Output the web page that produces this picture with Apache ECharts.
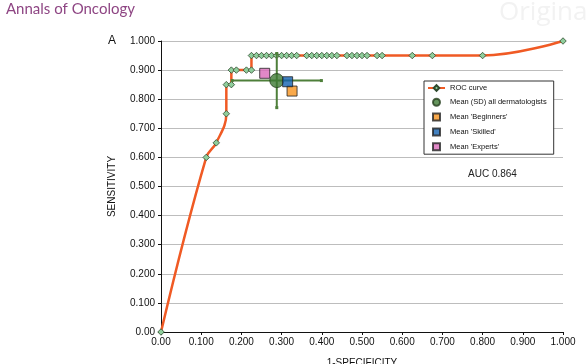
<!DOCTYPE html>
<html><head><meta charset="utf-8">
<script src="https://cdn.jsdelivr.net/npm/echarts@6/dist/echarts.min.js"></script>
<style>html,body{margin:0;padding:0;background:#fff}#c{width:588px;height:364px}</style>
</head><body><div id="c"></div>
<script>
// ROC curve (1-specificity, sensitivity)
var rocX = [0, 0.1125, 0.1375, 0.1625, 0.1625, 0.175, 0.175, 0.1875, 0.2125, 0.225, 0.225, 0.2375, 0.25, 0.2625, 0.275, 0.2875, 0.30, 0.3125, 0.325, 0.3375, 0.3625, 0.375, 0.3875, 0.40, 0.4125, 0.425, 0.4375, 0.4625, 0.475, 0.4875, 0.50, 0.5125, 0.5375, 0.55, 0.625, 0.675, 0.80, 1.0];
var rocY = [0, 0.60, 0.65, 0.75, 0.85, 0.85, 0.90, 0.90, 0.90, 0.90, 0.95, 0.95, 0.95, 0.95, 0.95, 0.95, 0.95, 0.95, 0.95, 0.95, 0.95, 0.95, 0.95, 0.95, 0.95, 0.95, 0.95, 0.95, 0.95, 0.95, 0.95, 0.95, 0.95, 0.95, 0.95, 0.95, 0.95, 1.0];
// Mean (SD) all dermatologists
var meanAll = [0.288, 0.864];
var sdAll = [0.111, 0.093];
var meanBeginners = [0.326, 0.828];
var meanSkilled = [0.315, 0.860];
var meanExperts = [0.258, 0.889];
var xTickLabels = ['0.00','0.100','0.200','0.300','0.400','0.500','0.600','0.700','0.800','0.900','1.000'];
var yTickLabels = ['0.00','0.100','0.200','0.300','0.400','0.500','0.600','0.700','0.800','0.900','1.000'];
var seriesNames = ['ROC curve', 'Mean (SD) all dermatologists', "Mean 'Beginners'", "Mean 'Skilled'", "Mean 'Experts'"];

var rocData = rocX.map(function(x, i){ return [x, rocY[i]]; });
var FONT = '"Liberation Sans", Arial, sans-serif';
var SQ = 'path://M0,0L10,0L10,10L0,10Z';

var chart = echarts.init(document.getElementById('c'), null, {renderer: 'canvas'});
chart.setOption({
  animation: false,
  backgroundColor: '#fff',
  grid: {left: 161, right: 25, top: 41, bottom: 32, containLabel: false, outerBoundsMode: 'none'},
  graphic: [
    {type: 'text', left: 6, top: 2, style: {text: 'Annals of Oncology', fill: '#8e4583', font: '15px Lato, "Open Sans", sans-serif'}},
    {type: 'text', left: 499, top: 0, style: {text: 'Origina', fill: '#f2f2f2', font: '26px "Open Sans", sans-serif'}},
    {type: 'text', left: 108, top: 35, style: {text: 'A', fill: '#111', font: '12px ' + FONT}},
    {type: 'text', left: 468, top: 169, style: {text: 'AUC 0.864', fill: '#222', font: '10px ' + FONT}}
  ],
  legend: {
    orient: 'vertical', left: 424, top: 81,
    data: [
      {name: seriesNames[0]},
      {name: seriesNames[1], icon: 'circle'},
      {name: seriesNames[2], icon: SQ},
      {name: seriesNames[3], icon: SQ},
      {name: seriesNames[4], icon: SQ}
    ],
    symbolKeepAspect: true,
    backgroundColor: '#fff', borderColor: '#333', borderWidth: 1,
    padding: [3, 7, 3, 3], itemGap: 5.8, itemWidth: 17, itemHeight: 7,
    textStyle: {fontSize: 7.5, fontFamily: FONT, color: '#111'},
    selectedMode: false
  },
  xAxis: {
    type: 'value', min: 0, max: 1, interval: 0.1,
    name: '1-SPECIFICITY', nameLocation: 'middle', nameGap: 26,
    nameTextStyle: {fontSize: 10, fontFamily: FONT, color: '#111'},
    axisLine: {show: true, lineStyle: {color: '#111', width: 1}},
    axisTick: {show: true, length: 3, lineStyle: {color: '#111'}},
    axisLabel: {fontSize: 10, fontFamily: FONT, color: '#111', margin: 5,
      formatter: function(v){ return xTickLabels[Math.round(v * 10)]; }},
    splitLine: {show: false}
  },
  yAxis: {
    type: 'value', min: 0, max: 1, interval: 0.1,
    name: 'SENSITIVITY', nameLocation: 'middle', nameGap: 44, nameRotate: 90,
    nameTextStyle: {fontSize: 10, fontFamily: FONT, color: '#111'},
    axisLine: {show: true, lineStyle: {color: '#111', width: 1}},
    axisTick: {show: true, length: 3, lineStyle: {color: '#111'}},
    axisLabel: {fontSize: 10, fontFamily: FONT, color: '#111', margin: 6,
      formatter: function(v){ return yTickLabels[Math.round(v * 10)]; }},
    splitLine: {show: true, lineStyle: {color: '#bdbdbd', width: 1}}
  },
  series: [
    {
      name: seriesNames[0], type: 'line', data: rocData, smooth: 0.4,
      symbol: 'diamond', symbolSize: 6.5, showSymbol: true,
      lineStyle: {color: '#f05a24', width: 2.5},
      itemStyle: {color: '#8fce9c', borderColor: '#2e4a2e', borderWidth: 0.8},
      z: 2
    },
    {
      name: 'errbars', type: 'custom', z: 3,
      data: [[meanAll[0], meanAll[1], sdAll[0], sdAll[1]]],
      renderItem: function(params, api){
        var x = api.value(0), y = api.value(1), sx = api.value(2), sy = api.value(3);
        var l = api.coord([x - sx, y]), r = api.coord([x + sx, y]);
        var t = api.coord([x, y + sy]), b = api.coord([x, y - sy]);
        var st = {stroke: '#4e7f3a', lineWidth: 2};
        var cap = {fill: '#4e7f3a'};
        return {type: 'group', children: [
          {type: 'line', shape: {x1: l[0], y1: l[1], x2: r[0], y2: r[1]}, style: st},
          {type: 'line', shape: {x1: t[0], y1: t[1], x2: b[0], y2: b[1]}, style: st},
          {type: 'rect', shape: {x: l[0]-1.5, y: l[1]-1.5, width: 3, height: 3}, style: cap},
          {type: 'rect', shape: {x: r[0]-1.5, y: r[1]-1.5, width: 3, height: 3}, style: cap},
          {type: 'rect', shape: {x: t[0]-1.5, y: t[1]-1.5, width: 3, height: 3}, style: cap},
          {type: 'rect', shape: {x: b[0]-1.5, y: b[1]-1.5, width: 3, height: 3}, style: cap}
        ]};
      }
    },
    {
      name: seriesNames[1], type: 'scatter', data: [meanAll], symbol: 'circle', symbolSize: 14,
      itemStyle: {color: '#3f7a34', borderColor: '#253f1e', borderWidth: 1}, z: 4
    },
    {
      name: seriesNames[2], type: 'scatter', data: [meanBeginners], symbol: 'rect', symbolSize: 10,
      itemStyle: {color: '#f7941e', borderColor: '#222', borderWidth: 1}, z: 4
    },
    {
      name: seriesNames[3], type: 'scatter', data: [meanSkilled], symbol: 'rect', symbolSize: 10,
      itemStyle: {color: '#1461b0', borderColor: '#222', borderWidth: 1}, z: 5
    },
    {
      name: seriesNames[4], type: 'scatter', data: [meanExperts], symbol: 'rect', symbolSize: 10,
      itemStyle: {color: '#d96ab9', borderColor: '#222', borderWidth: 1}, z: 4
    }
  ]
});
</script>
</body></html>
